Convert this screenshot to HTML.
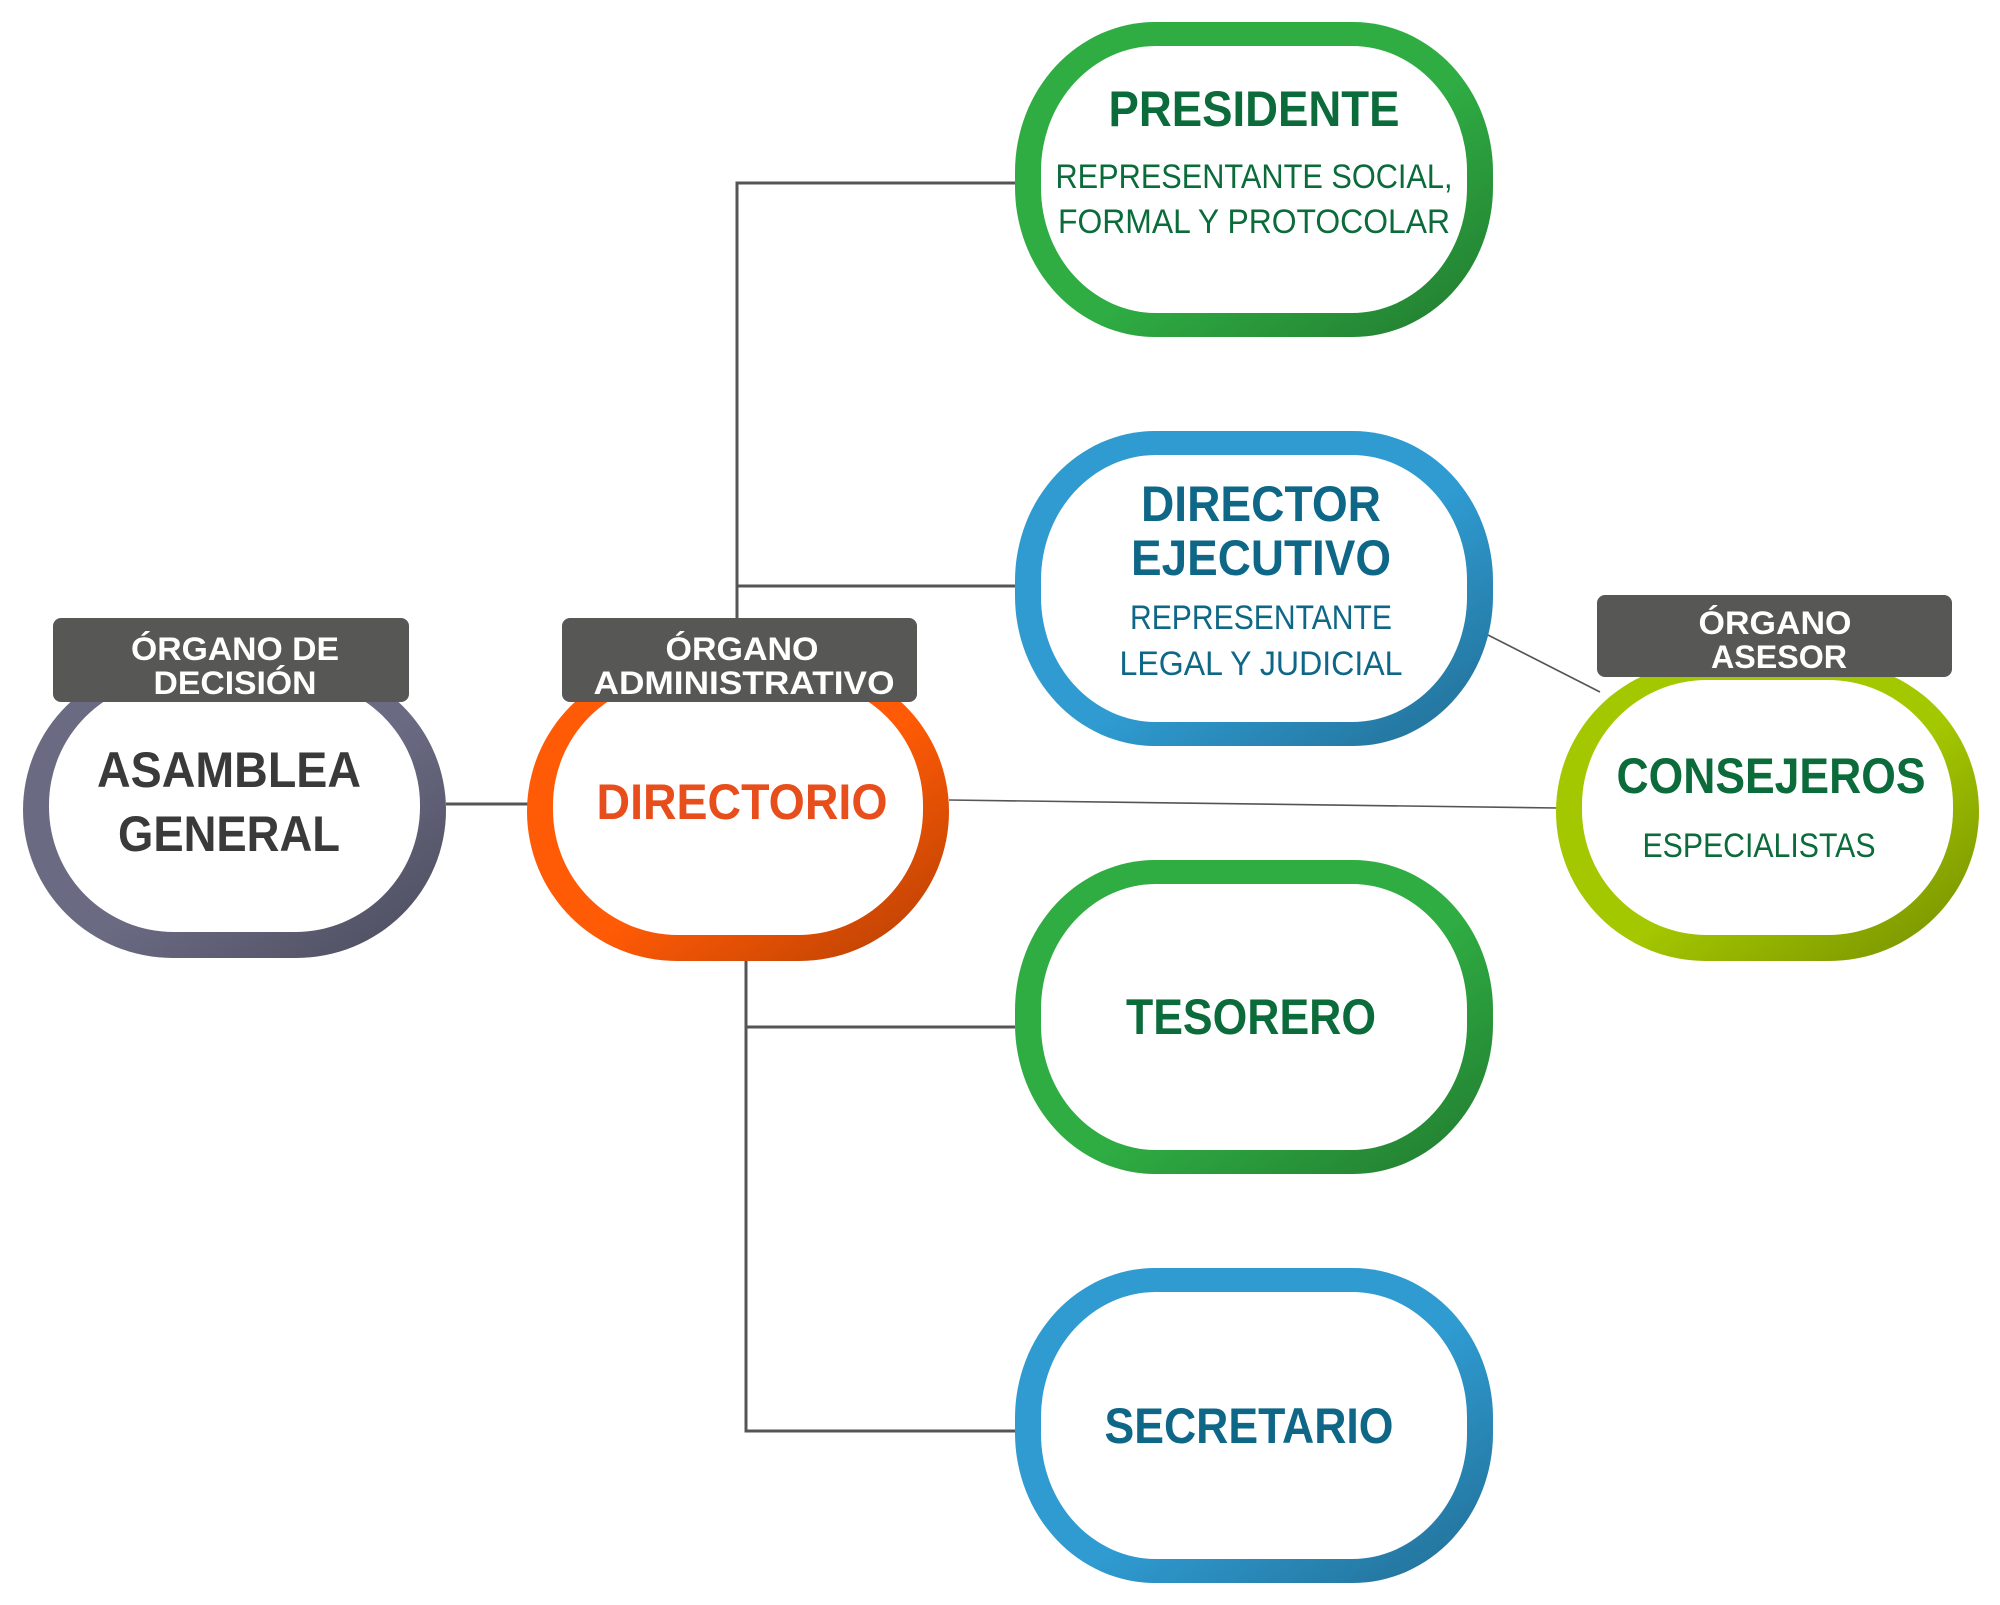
<!DOCTYPE html>
<html><head><meta charset="utf-8"><style>html,body{margin:0;padding:0;background:#fff}svg{display:block}</style></head>
<body>
<svg width="2000" height="1605" viewBox="0 0 2000 1605" xmlns="http://www.w3.org/2000/svg" font-family="'Liberation Sans', sans-serif">
<defs>
<linearGradient id="sh" x1="0" y1="0" x2="1" y2="1">
<stop offset="0.55" stop-color="#000" stop-opacity="0"/>
<stop offset="1" stop-color="#000" stop-opacity="0.3"/>
</linearGradient>
</defs>
<!-- connectors -->
<g stroke="#555" stroke-width="3" fill="none">
<line x1="446" y1="804" x2="530" y2="804"/>
<polyline points="1015,183 737,183 737,620"/>
<line x1="737" y1="586" x2="1015" y2="586"/>
<polyline points="746,958 746,1431 1015,1431"/>
<line x1="746" y1="1027" x2="1015" y2="1027"/>
</g>
<g stroke="#555" stroke-width="1.6">
<line x1="949" y1="800" x2="1558" y2="808"/>
<line x1="1488" y1="635" x2="1600" y2="692"/>
</g>
<!-- nodes -->
<g>
<!-- Asamblea -->
<rect x="23" y="662" width="423" height="296" rx="150" ry="150" fill="#6a6b83"/>
<rect x="23" y="662" width="423" height="296" rx="150" ry="150" fill="url(#sh)"/>
<rect x="49" y="680" width="371" height="252" rx="125" ry="125" fill="#fff"/>
<!-- Directorio -->
<rect x="527" y="662" width="422" height="299" rx="150" ry="150" fill="#ff5a05"/>
<rect x="527" y="662" width="422" height="299" rx="150" ry="150" fill="url(#sh)"/>
<rect x="553" y="680" width="370" height="255" rx="125" ry="125" fill="#fff"/>
<!-- Consejeros -->
<rect x="1556" y="662" width="423" height="299" rx="150" ry="150" fill="#a4c800"/>
<rect x="1556" y="662" width="423" height="299" rx="150" ry="150" fill="url(#sh)"/>
<rect x="1582" y="680" width="371" height="255" rx="125" ry="125" fill="#fff"/>
<!-- Presidente -->
<rect x="1015" y="22" width="478" height="315" rx="140" ry="150" fill="#2fad43"/>
<rect x="1015" y="22" width="478" height="315" rx="140" ry="150" fill="url(#sh)"/>
<rect x="1041" y="46" width="426" height="267" rx="115" ry="125" fill="#fff"/>
<!-- Director Ejecutivo -->
<rect x="1015" y="431" width="478" height="315" rx="140" ry="150" fill="#2f9bd1"/>
<rect x="1015" y="431" width="478" height="315" rx="140" ry="150" fill="url(#sh)"/>
<rect x="1041" y="455" width="426" height="267" rx="115" ry="125" fill="#fff"/>
<!-- Tesorero -->
<rect x="1015" y="860" width="478" height="314" rx="140" ry="150" fill="#2fad43"/>
<rect x="1015" y="860" width="478" height="314" rx="140" ry="150" fill="url(#sh)"/>
<rect x="1041" y="884" width="426" height="266" rx="115" ry="125" fill="#fff"/>
<!-- Secretario -->
<rect x="1015" y="1268" width="478" height="315" rx="140" ry="150" fill="#2f9bd1"/>
<rect x="1015" y="1268" width="478" height="315" rx="140" ry="150" fill="url(#sh)"/>
<rect x="1041" y="1292" width="426" height="267" rx="115" ry="125" fill="#fff"/>
</g>
<!-- label boxes -->
<rect x="53" y="618" width="356" height="84" rx="8" fill="#575756"/>
<rect x="562" y="618" width="355" height="84" rx="8" fill="#575756"/>
<rect x="1597" y="595" width="355" height="82" rx="8" fill="#575756"/>
<g fill="#fff" font-weight="bold" font-size="32" text-anchor="middle">
<text x="235" y="660" textLength="208" lengthAdjust="spacingAndGlyphs">ÓRGANO DE</text>
<text x="235" y="694" textLength="163" lengthAdjust="spacingAndGlyphs">DECISIÓN</text>
<text x="742" y="660" textLength="153" lengthAdjust="spacingAndGlyphs">ÓRGANO</text>
<text x="744" y="694" textLength="301" lengthAdjust="spacingAndGlyphs">ADMINISTRATIVO</text>
<text x="1775" y="634" textLength="153" lengthAdjust="spacingAndGlyphs">ÓRGANO</text>
<text x="1779" y="668" textLength="136" lengthAdjust="spacingAndGlyphs">ASESOR</text>
</g>
<g font-weight="bold" font-size="50" text-anchor="middle">
<text x="229" y="787" fill="#3a3a3a" textLength="264" lengthAdjust="spacingAndGlyphs">ASAMBLEA</text>
<text x="229" y="851" fill="#3a3a3a" textLength="222" lengthAdjust="spacingAndGlyphs">GENERAL</text>
<text x="742" y="819" fill="#e84e1b" textLength="291" lengthAdjust="spacingAndGlyphs">DIRECTORIO</text>
<text x="1254" y="126" fill="#0b6b3a" textLength="291" lengthAdjust="spacingAndGlyphs">PRESIDENTE</text>
<text x="1261" y="521" fill="#0e6787" textLength="240" lengthAdjust="spacingAndGlyphs">DIRECTOR</text>
<text x="1261" y="575" fill="#0e6787" textLength="260" lengthAdjust="spacingAndGlyphs">EJECUTIVO</text>
<text x="1251" y="1034" fill="#0b6b3a" textLength="250" lengthAdjust="spacingAndGlyphs">TESORERO</text>
<text x="1249" y="1443" fill="#0e6787" textLength="289" lengthAdjust="spacingAndGlyphs">SECRETARIO</text>
<text x="1771" y="793" fill="#0b6b3a" textLength="309" lengthAdjust="spacingAndGlyphs">CONSEJEROS</text>
</g>
<g font-size="34" text-anchor="middle">
<text x="1254" y="188" fill="#0b6b3a" textLength="397" lengthAdjust="spacingAndGlyphs">REPRESENTANTE SOCIAL,</text>
<text x="1254" y="233" fill="#0b6b3a" textLength="392" lengthAdjust="spacingAndGlyphs">FORMAL Y PROTOCOLAR</text>
<text x="1261" y="629" fill="#0e6787" textLength="262" lengthAdjust="spacingAndGlyphs">REPRESENTANTE</text>
<text x="1261" y="675" fill="#0e6787" textLength="283" lengthAdjust="spacingAndGlyphs">LEGAL Y JUDICIAL</text>
<text x="1759" y="857" fill="#0b6b3a" textLength="233" lengthAdjust="spacingAndGlyphs">ESPECIALISTAS</text>
</g>
</svg>
</body></html>
